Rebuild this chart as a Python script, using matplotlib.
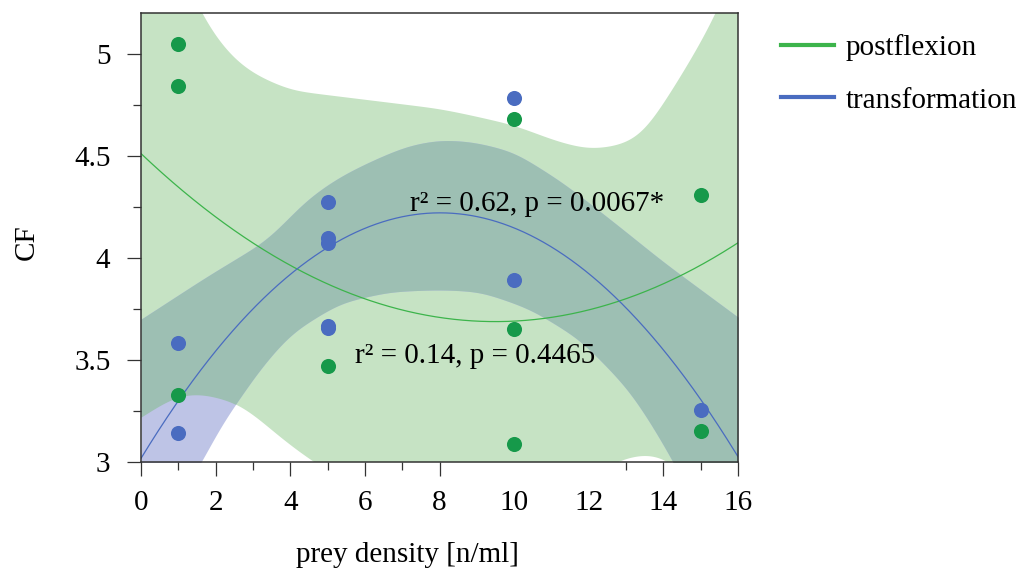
import numpy as np
import matplotlib
matplotlib.use("Agg")
import matplotlib.pyplot as plt
from matplotlib.lines import Line2D

plt.rcParams['font.family'] = ['Liberation Serif', 'DejaVu Serif']
plt.rcParams['font.size'] = 21

# ---- observations -------------------------------------------------------
post_x = [1, 1, 1, 5, 10, 10, 10, 15, 15]
post_y = [5.05, 4.84, 3.33, 3.47, 4.68, 3.65, 3.09, 4.31, 3.15]

trans_x = [1, 1, 5, 5, 5, 5, 5, 10, 10, 15]
trans_y = [3.585, 3.143, 4.273, 4.096, 4.071, 3.668, 3.658, 4.784, 3.894, 3.256]

# ---- quadratic regression curves (sampled values) ------------------------
post_fit_x = [0, 2.65, 4.26, 6.22, 8.01, 9.54, 10.88, 12.84, 14.45, 15.97]
post_fit_y = [4.51, 4.115, 3.94, 3.79, 3.71, 3.68, 3.70, 3.80, 3.91, 4.07]

trans_fit_x = [0.05, 1.0, 2.65, 4.26, 4.98, 6.06, 8.01, 9.97, 12.84, 14.98, 15.97]
trans_fit_y = [3.01, 3.30, 3.73, 3.94, 4.06, 4.14, 4.21, 4.14, 3.80, 3.29, 3.05]

# ---- 95% confidence bands ------------------------------------------------
post_up_x = [0, 1.0, 1.58, 2.04, 2.47, 2.65, 3.11, 3.4, 4.0, 5.33, 6.67, 8.0,
             8.8, 10.0, 11.15, 12.0, 12.85, 13.45, 14.2, 14.9, 15.44, 16]
post_up_y = [5.9, 5.45, 5.2, 5.07, 4.975, 4.95, 4.89, 4.87, 4.82, 4.79, 4.76,
             4.73, 4.70, 4.65, 4.57, 4.53, 4.55, 4.60, 4.81, 5.02, 5.2, 5.45]
post_lo_x = [0, 0.86, 1.5, 2.2, 2.57, 3.11, 3.73, 4.61, 6, 8, 10, 12, 12.7,
             13.2, 13.6, 14.0, 14.3, 15, 16]
post_lo_y = [3.22, 3.32, 3.34, 3.31, 3.29, 3.22, 3.12, 3.0, 2.85, 2.78, 2.8,
             2.92, 3.0, 3.03, 3.04, 3.025, 2.99, 2.85, 2.6]

trans_up_x = [0, 1.77, 3.4, 4.45, 5.33, 6.22, 7.13, 8.0, 8.9, 10.0, 11.3,
              12.5, 13.05, 14.0, 16]
trans_up_y = [3.70, 3.91, 4.09, 4.29, 4.40, 4.48, 4.55, 4.58, 4.57, 4.52,
              4.37, 4.20, 4.12, 3.98, 3.71]
trans_lo_x = [0, 1.0, 1.66, 2.04, 2.57, 3.11, 4.0, 5.33, 6.67, 8.0, 9.1,
              10.43, 11.77, 13.1, 14.0, 14.26, 15, 16]
trans_lo_y = [2.55, 2.82, 3.0, 3.16, 3.29, 3.44, 3.63, 3.78, 3.835, 3.845,
              3.835, 3.75, 3.60, 3.35, 3.09, 3.0, 2.75, 2.4]

labels = ["postflexion", "transformation"]
stats_text = ["r\u00b2 = 0.14, p = 0.4465", "r\u00b2 = 0.62, p = 0.0067*"]

# ---- colours -------------------------------------------------------------
c_post_pt = "#16994a"
c_trans_pt = "#4a6cc0"
c_post_line = "#3cb44b"
c_trans_line = "#4a6cc0"
c_post_band = "#c6e3c4"
c_trans_band = "#bec4e6"
c_overlap = "#9dbfb3"

xg = np.linspace(0, 16, 1601)


def band_edge(bx, by, width=0.35):
    """Resample a band edge on the fine grid and round off its corners."""
    y = np.interp(xg, bx, by)
    step = xg[1] - xg[0]
    k = np.arange(-3 * width, 3 * width + step, step)
    w = np.exp(-0.5 * (k / width) ** 2)
    w /= w.sum()
    n = len(k) // 2
    pad_l = y[0] + (y[0] - y[1]) * np.arange(n, 0, -1)
    pad_r = y[-1] + (y[-1] - y[-2]) * np.arange(1, n + 1)
    return np.convolve(np.concatenate([pad_l, y, pad_r]), w, mode='valid')


fig = plt.figure(figsize=(10.25, 5.74), dpi=100)
ax = fig.add_axes([0.1376, 0.1951, 0.5824, 0.7823])

gu = band_edge(post_up_x, post_up_y)
gl = band_edge(post_lo_x, post_lo_y)
bu = band_edge(trans_up_x, trans_up_y)
bl = band_edge(trans_lo_x, trans_lo_y)

ax.fill_between(xg, gl, gu, color=c_post_band, lw=0, zorder=1)
ax.fill_between(xg, bl, bu, color=c_trans_band, lw=0, zorder=1.1)
lo = np.maximum(gl, bl)
hi = np.minimum(gu, bu)
ax.fill_between(xg, lo, hi, where=hi > lo, interpolate=True,
                color=c_overlap, lw=0, zorder=1.2)

pc = np.polyfit(post_fit_x, post_fit_y, 2)
tc = np.polyfit(trans_fit_x, trans_fit_y, 2)
ax.plot(xg, np.polyval(pc, xg), color=c_post_line, lw=0.9, zorder=2)
ax.plot(xg, np.polyval(tc, xg), color=c_trans_line, lw=0.9, zorder=2)

ax.scatter(post_x, post_y, s=118, color=c_post_pt, lw=0, zorder=3)
ax.scatter(trans_x, trans_y, s=118, color=c_trans_pt, lw=0, zorder=3.1)

ax.text(5.74, 3.486, stats_text[0], ha='left', va='baseline', zorder=4)
ax.text(7.21, 4.228, stats_text[1], ha='left', va='baseline', zorder=4)

ax.set_xlim(0, 16)
ax.set_ylim(3, 5.2)

ax.set_xticks(np.arange(0, 17, 2))
ax.set_xticks([1, 3, 5, 7, 13, 15], minor=True)
ax.set_yticks([3, 3.5, 4, 4.5, 5])
ax.set_yticklabels(["3", "3.5", "4", "4.5", "5"])
ax.set_yticks([3.25, 3.75, 4.25, 4.75], minor=True)
for i, t in enumerate(ax.xaxis.get_major_ticks()):
    if i in (5, 6):
        t.tick1line.set_visible(False)

ax.tick_params(which='major', direction='out', length=10, width=0.9,
               color='#333333', pad=10, top=False, right=False)
ax.tick_params(which='minor', direction='out', length=6, width=0.9,
               color='#333333', top=False, right=False)
ax.tick_params(axis='y', which='major', pad=12)
for s in ax.spines.values():
    s.set_linewidth(1.1)
    s.set_color('#333333')
    s.set_zorder(5)

ax.set_xlabel("prey density [n/ml]")
ax.set_ylabel("CF")
ax.xaxis.set_label_coords(0.447, -0.178)
ax.yaxis.set_label_coords(-0.170, 0.49)

handles = [Line2D([0], [0], color=c_post_line, lw=3),
           Line2D([0], [0], color=c_trans_line, lw=3)]
fig.legend(handles, labels, loc='upper left', bbox_to_anchor=(0.762, 0.941),
           frameon=False, handlelength=1.8, handletextpad=0.42,
           labelspacing=0.9, borderpad=0, borderaxespad=0)

fig.savefig("out.png", dpi=100)
